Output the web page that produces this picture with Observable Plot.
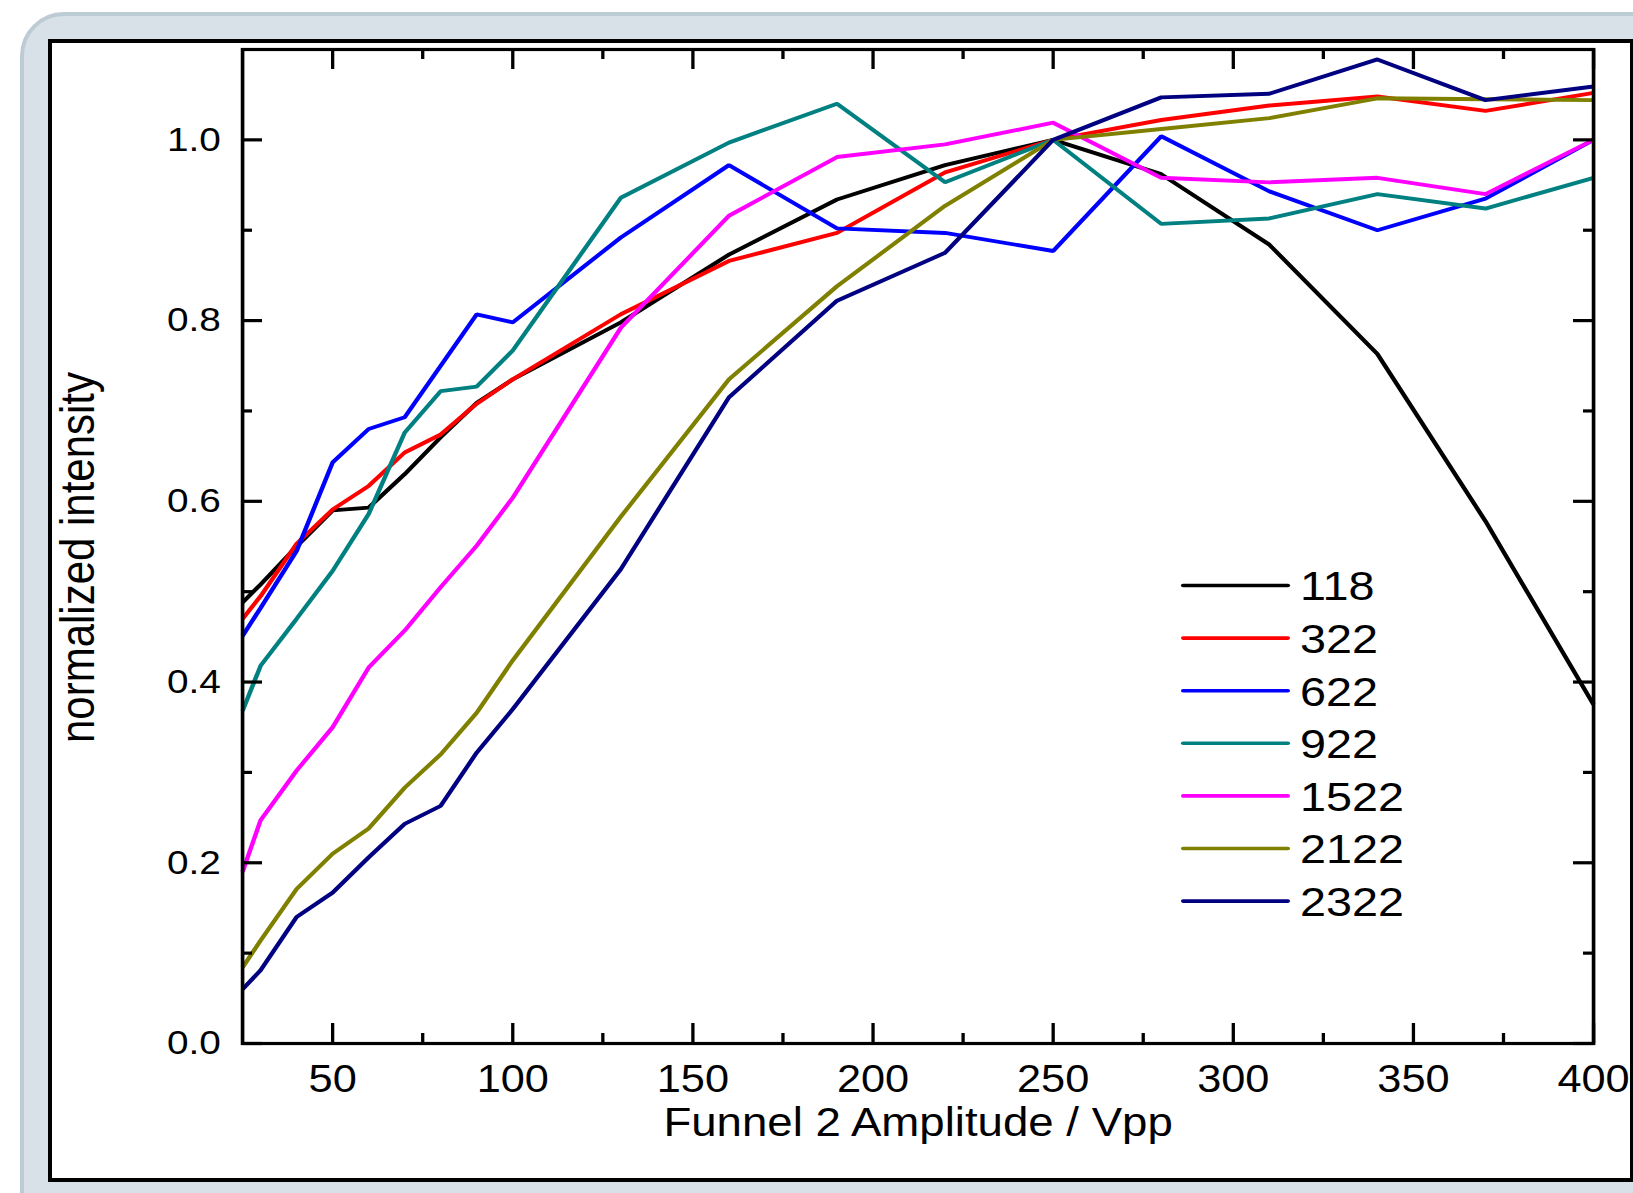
<!DOCTYPE html>
<html><head><meta charset="utf-8">
<script src="https://cdn.jsdelivr.net/npm/d3@7"></script>
<script src="https://cdn.jsdelivr.net/npm/@observablehq/plot@0.6"></script>
<style>
html,body{margin:0;padding:0;width:1633px;height:1193px;overflow:hidden;background:#fff;font-family:"Liberation Sans",Arial,sans-serif;}
#panel{position:absolute;left:20px;top:12px;width:1660px;height:1230px;background:#d9e1e8;border:4px solid #bccbd4;border-radius:44px;box-sizing:border-box;}
#inner{position:absolute;left:48px;top:39px;width:1586px;height:1143px;background:#fff;border:4px solid #000;box-sizing:border-box;}
#stretch{position:absolute;left:0;top:0;width:1432px;height:1193px;transform:scaleX(1.14);transform-origin:0 0;}
</style></head><body>
<div id="panel"></div><div id="inner"></div><div id="stretch"></div>
<script>
// ---- data ----
const amplitude = [25, 30, 40, 50, 60, 70, 80, 90, 100, 130, 160, 190, 220, 250, 280, 310, 340, 370, 400];
const s118  = [0.488, 0.508, 0.550, 0.590, 0.593, 0.630, 0.671, 0.709, 0.735, 0.798, 0.873, 0.934, 0.972, 1.000, 0.962, 0.884, 0.763, 0.578, 0.375];
const s322  = [0.470, 0.495, 0.553, 0.591, 0.617, 0.654, 0.674, 0.708, 0.735, 0.807, 0.866, 0.897, 0.964, 1.000, 1.022, 1.038, 1.048, 1.032, 1.052];
const s622  = [0.451, 0.482, 0.545, 0.643, 0.680, 0.693, 0.750, 0.807, 0.798, 0.892, 0.972, 0.902, 0.897, 0.877, 1.004, 0.943, 0.900, 0.935, 1.000];
const s922  = [0.368, 0.418, 0.470, 0.523, 0.586, 0.676, 0.722, 0.727, 0.767, 0.936, 0.997, 1.040, 0.953, 1.000, 0.907, 0.913, 0.940, 0.924, 0.958];
const s1522 = [0.190, 0.247, 0.302, 0.350, 0.416, 0.457, 0.505, 0.551, 0.604, 0.792, 0.916, 0.981, 0.995, 1.019, 0.958, 0.953, 0.958, 0.940, 1.000];
const s2122 = [0.084, 0.114, 0.171, 0.210, 0.238, 0.283, 0.320, 0.366, 0.424, 0.583, 0.735, 0.838, 0.927, 1.000, 1.012, 1.024, 1.046, 1.045, 1.044];
const s2322 = [0.060, 0.081, 0.140, 0.167, 0.206, 0.243, 0.263, 0.322, 0.370, 0.525, 0.715, 0.822, 0.875, 1.000, 1.047, 1.051, 1.089, 1.044, 1.059];
const seriesNames  = ["118", "322", "622", "922", "1522", "2122", "2322"];
const seriesColors = ["#000000", "#ff0000", "#0000ff", "#008080", "#ff00ff", "#808000", "#000080"];
const seriesValues = [s118, s322, s622, s922, s1522, s2122, s2322];
const xMajorTicks = [50, 100, 150, 200, 250, 300, 350, 400];
const xMinorTicks = [75, 125, 175, 225, 275, 325, 375];
const yMajorTicks = [0, 0.2, 0.4, 0.6, 0.8, 1.0];
const yMinorTicks = [0.1, 0.3, 0.5, 0.7, 0.9];
const xTitle = "Funnel 2 Amplitude / Vpp";
const yTitle = "normalized intensity";

const rows = seriesNames.flatMap((name, i) =>
  amplitude.map((x, j) => ({series: name, x, y: seriesValues[i][j]})));

// ---- layout (unstretched coordinates; container is scaled by K horizontally) ----
const K = 1.14;
const W = 1432, H = 1193;
const ML = 242 / K, MR = W - 1593 / K, MT = 49, MB = H - 1043;
const FW = W - ML - MR, FH = H - MT - MB;
const majV = 20, minV = 10, majH = 20 / K, minH = 10 / K;
const font = "'Liberation Sans', Arial, Helvetica, sans-serif";

const chart = Plot.plot({
  width: W, height: H,
  marginLeft: ML, marginRight: MR, marginTop: MT, marginBottom: MB,
  style: {background: "transparent", fontFamily: font, color: "#000", overflow: "visible"},
  x: {domain: [25, 400]},
  y: {domain: [0, 1.1]},
  color: {domain: seriesNames, range: seriesColors},
  marks: [
    Plot.line(rows, {x: "x", y: "y", z: "series", stroke: "series", strokeWidth: 3.9, strokeLinejoin: "miter", strokeLinecap: "butt"}),
    // inward ticks, bottom and top
    Plot.tickX(xMajorTicks, {x: d => d, insetTop: FH - majV, stroke: "#000", strokeWidth: 2.9}),
    Plot.tickX(xMinorTicks, {x: d => d, insetTop: FH - minV, stroke: "#000", strokeWidth: 2.9}),
    Plot.tickX(xMajorTicks, {x: d => d, insetBottom: FH - majV, stroke: "#000", strokeWidth: 2.9}),
    Plot.tickX(xMinorTicks, {x: d => d, insetBottom: FH - minV, stroke: "#000", strokeWidth: 2.9}),
    // inward ticks, left and right
    Plot.tickY(yMajorTicks, {y: d => d, insetRight: FW - majH, stroke: "#000", strokeWidth: 3.2}),
    Plot.tickY(yMinorTicks, {y: d => d, insetRight: FW - minH, stroke: "#000", strokeWidth: 3.2}),
    Plot.tickY(yMajorTicks, {y: d => d, insetLeft: FW - majH, stroke: "#000", strokeWidth: 3.2}),
    Plot.tickY(yMinorTicks, {y: d => d, insetLeft: FW - minH, stroke: "#000", strokeWidth: 3.2}),
    Plot.frame({stroke: "#000", strokeWidth: 3.2}),
    Plot.axisX({ticks: xMajorTicks, tickSize: 0, tickPadding: 22, fontSize: 38, tickFormat: d => String(d), label: null}),
    Plot.axisY({ticks: yMajorTicks, tickSize: 0, tickPadding: 19, fontSize: 34, tickFormat: d3.format(".1f"), label: null}),
    Plot.text([yTitle], {text: d => d, frameAnchor: "left", textAnchor: "middle", lineAnchor: "middle", rotate: -90, dx: 78 / K - ML, dy: 11, fontSize: 42, fill: "#000"}),
    Plot.text([xTitle], {text: d => d, frameAnchor: "bottom", textAnchor: "middle", lineAnchor: "middle", dy: 80, fontSize: 40, fill: "#000"})
  ]
});

// ---- legend ----
const svg = d3.select(chart);
const lg = svg.append("g").attr("font-family", font).attr("font-size", 41).attr("fill", "#000").attr("text-anchor", "start");
seriesNames.forEach((name, i) => {
  const yy = 585.5 + i * 52.6;
  lg.append("line")
    .attr("x1", 1183 / K).attr("x2", 1288 / K).attr("y1", yy).attr("y2", yy)
    .attr("stroke", seriesColors[i]).attr("stroke-width", 3.6).attr("stroke-linecap", "round");
  lg.append("text").attr("x", 1300 / K).attr("y", yy + 15).attr("text-anchor", "start").text(name);
});

document.getElementById("stretch").appendChild(chart);
</script>
</body></html>
